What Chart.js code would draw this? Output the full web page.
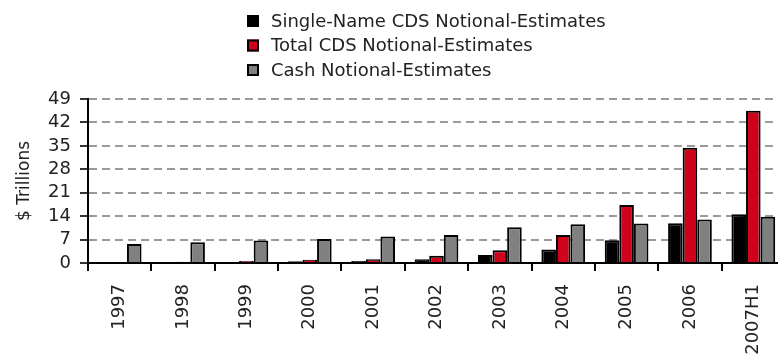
<!DOCTYPE html>
<html><head><meta charset="utf-8">
<script src="https://cdn.jsdelivr.net/npm/chart.js@4/dist/chart.umd.min.js"></script>
<style>
html,body{margin:0;padding:0;overflow:hidden;background:#fff;width:778px;height:357px}
#wrap{position:relative;width:800px;height:357px}
</style></head>
<body><div id="wrap"><canvas id="c" width="800" height="357"></canvas></div>
<script>
const categories = ['1997','1998','1999','2000','2001','2002','2003','2004','2005','2006','2007H1'];
const singleNameCDS = [0, 0, 0, 0.5, 0.6, 1.1, 2.4, 4.0, 6.8, 11.9, 14.6];
const totalCDS = [0, 0.4, 0.6, 1.0, 1.1, 2.2, 3.8, 8.4, 17.3, 34.4, 45.5];
const cashNotional = [5.7, 6.2, 6.7, 7.2, 7.9, 8.4, 10.7, 11.6, 11.8, 13.0, 13.8];
const seriesNames = ['Single-Name CDS Notional-Estimates','Total CDS Notional-Estimates','Cash Notional-Estimates'];
const yTicks = [0, 7, 14, 21, 28, 35, 42, 49];
const yTitle = '$ Trillions';

const FONT = "'DejaVu Sans', sans-serif";
const colors = ['#000000', '#D0021B', '#808080'];

const legendPlugin = {
  id: 'stackedLegend',
  afterDraw(chart) {
    const ctx = chart.ctx;
    ctx.save();
    ctx.font = "18px " + FONT;
    ctx.textBaseline = 'middle';
    ctx.textAlign = 'left';
    chart.data.datasets.forEach((ds, i) => {
      const cy = 21 + i * 24.5;
      ctx.fillStyle = ds.backgroundColor;
      ctx.fillRect(247, cy - 6, 12, 12);
      ctx.lineWidth = 2;
      ctx.strokeStyle = '#000';
      ctx.strokeRect(248, cy - 5, 10, 10);
      ctx.fillStyle = '#222';
      ctx.fillText(ds.label, 271, cy + 1);
    });
    ctx.restore();
  }
};

const mk = (label, data, color) => ({
  label, data, backgroundColor: color, borderColor: '#000', borderWidth: 2,
  barPercentage: 1.0, categoryPercentage: 0.69
});

new Chart(document.getElementById('c'), {
  type: 'bar',
  data: {
    labels: categories,
    datasets: [
      mk(seriesNames[0], singleNameCDS, colors[0]),
      mk(seriesNames[1], totalCDS, colors[1]),
      mk(seriesNames[2], cashNotional, colors[2])
    ]
  },
  options: {
    responsive: false,
    animation: false,
    devicePixelRatio: 1,
    layout: { padding: { top: 99, left: 12, right: 15, bottom: 1 } },
    plugins: { legend: { display: false }, tooltip: { enabled: false } },
    scales: {
      x: {
        offset: true,
        afterFit(scale) { scale.height = 93; },
        grid: { display: true, drawOnChartArea: false, offset: true, tickLength: 8, color: '#000', lineWidth: 2 },
        border: { display: true, color: '#000', width: 2 },
        ticks: { minRotation: 90, maxRotation: 90, padding: 13, color: '#222', font: { family: FONT, size: 18 }, autoSkip: false }
      },
      y: {
        min: 0, max: 49,
        afterFit(scale) { scale.width = 76; },
        afterBuildTicks(axis) { axis.ticks = yTicks.map(v => ({ value: v })); },
        grid: { color: '#9a9a9a', lineWidth: 2, tickLength: 8, tickColor: '#333', tickWidth: 2, tickBorderDash: [] },
        border: { display: true, color: '#000', width: 2, dash: [8, 5] },
        ticks: { padding: 9, autoSkip: false, color: '#222', font: { family: FONT, size: 18 } },
        title: { display: true, text: yTitle, color: '#222', font: { family: FONT, size: 17 }, padding: { top: 2, bottom: 10 } }
      }
    }
  },
  plugins: [legendPlugin]
});
</script>
</body></html>
